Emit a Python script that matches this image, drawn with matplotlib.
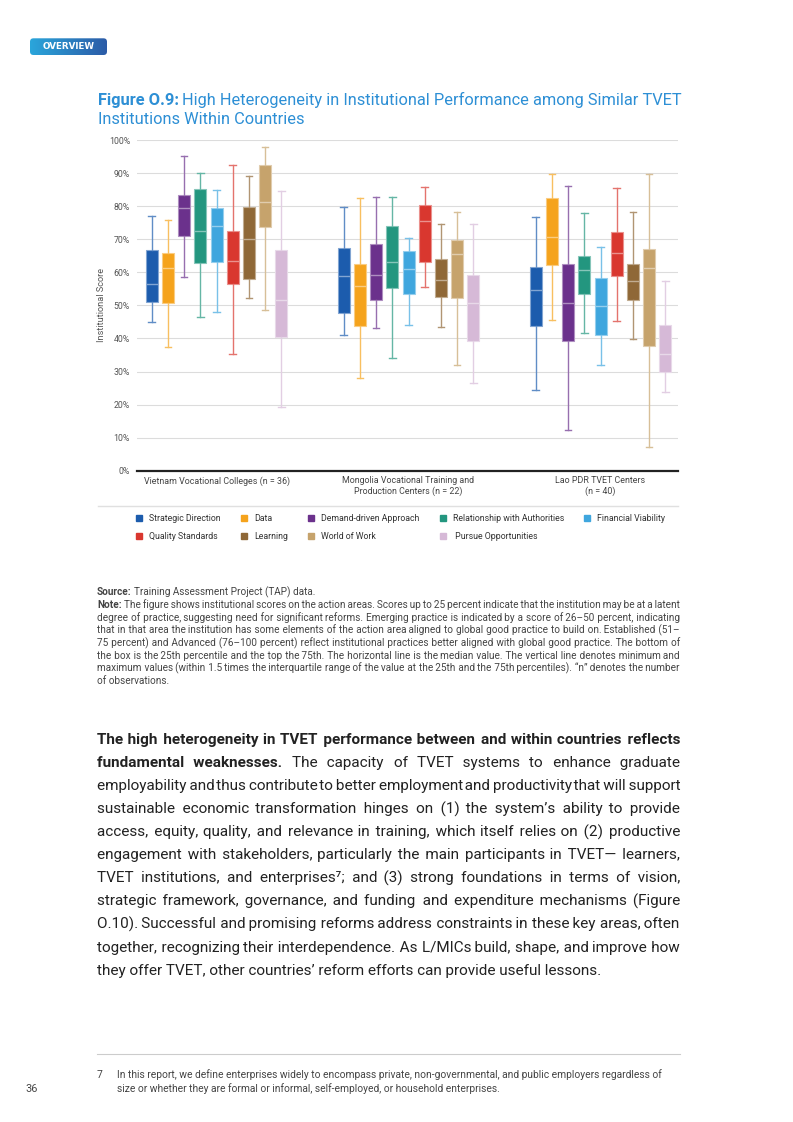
import matplotlib
matplotlib.use("Agg")
import matplotlib.pyplot as plt
import matplotlib.colors as mcolors
from matplotlib.patches import FancyBboxPatch
from matplotlib.lines import Line2D
import numpy as np

plt.rcParams["font.family"] = ["Roboto", "DejaVu Sans"]

W, H = 793, 1122
HAIR = "\u200a"

SERIES = ["Strategic Direction", "Data", "Demand-driven Approach", "Relationship with Authorities",
          "Financial Viability", "Quality Standards", "Learning", "World of Work", " Pursue Opportunities"]
COLORS = ["#1c5cad", "#f5a31c", "#6b318c", "#23967f", "#3fa6de",
          "#d9372f", "#8f6837", "#c6a36c", "#d6b9d7"]
GROUPS = ["Vietnam Vocational Colleges (n = 36)",
          "Mongolia Vocational Training and\nProduction Centers (n = 22)",
          "Lao PDR TVET Centers\n(n = 40)"]

# box stats per group (rows) and action area (columns), percent
WHISK_LO = [[44.9, 37.3, 58.7, 46.5, 48.0, 35.4, 52.4, 48.7, 19.3],
            [41.2, 27.9, 43.3, 34.2, 44.1, 55.5, 43.6, 32.0, 26.5],
            [24.4, 45.6, 12.2, 41.6, 31.9, 45.4, 39.8, 7.3, 23.8]]
Q1 = [[51.0, 50.6, 71.1, 62.8, 63.2, 56.6, 58.1, 73.6, 40.6],
      [47.6, 43.8, 51.6, 55.3, 53.5, 63.1, 52.6, 52.2, 39.3],
      [43.8, 62.2, 39.1, 53.5, 41.2, 58.8, 51.6, 37.8, 29.8]]
MEDIAN = [[56.6, 61.4, 79.4, 72.6, 73.9, 63.6, 70.2, 81.3, 51.8],
          [59.0, 56.0, 59.3, 63.2, 61.1, 75.6, 57.6, 65.7, 50.6],
          [54.8, 70.6, 50.6, 60.8, 49.9, 66.0, 57.5, 61.4, 35.2]]
Q3 = [[66.9, 65.9, 83.4, 85.2, 79.4, 72.5, 79.7, 92.6, 66.9],
      [67.4, 62.6, 68.5, 73.9, 66.4, 80.4, 64.2, 69.9, 59.2],
      [61.6, 82.4, 62.5, 65.0, 58.4, 72.1, 62.6, 67.0, 44.2]]
WHISK_HI = [[77.1, 75.9, 95.3, 90.0, 85.0, 92.6, 89.1, 97.9, 84.7],
            [79.8, 82.6, 82.9, 82.8, 70.5, 85.8, 74.5, 78.3, 74.7],
            [76.7, 89.8, 86.1, 77.9, 67.7, 85.5, 78.2, 89.8, 57.4]]
YTICKS = list(range(0, 101, 10))

BODY = [
    [("The high heterogeneity in TVET performance between and within countries reflects", True)],
    [("fundamental weaknesses.", True), ("The capacity of TVET systems to enhance graduate", False)],
    [("employability and thus contribute to better employment and productivity that will support", False)],
    [("sustainable economic transformation hinges on (1) the system\u2019s ability to provide", False)],
    [("access, equity, quality, and relevance in training, which itself relies on (2) productive", False)],
    [("engagement with stakeholders, particularly the main participants in TVET\u2014 learners,", False)],
    [("TVET institutions, and enterprises\u2077; and (3) strong foundations in terms of vision,", False)],
    [("strategic framework, governance, and funding and expenditure mechanisms (Figure", False)],
    [("O.10). Successful and promising reforms address constraints in these key areas, often", False)],
    [("together, recognizing their interdependence. As L/MICs build, shape, and improve how", False)],
    [("they offer TVET, other countries\u2019 reform efforts can provide useful lessons.", False)],
]
NOTE = [
    [("Note:", True), ("The figure shows institutional scores on the action areas. Scores up to 25 percent indicate that the institution may be at a latent", False)],
    [("degree of practice, suggesting need for significant reforms. Emerging practice is indicated by a score of 26\u201350 percent, indicating", False)],
    [("that in that area the institution has some elements of the action area aligned to global good practice to build on. Established (51\u2013", False)],
    [("75 percent) and Advanced (76\u2013100 percent) reflect institutional practices better aligned with global good practice. The bottom of", False)],
    [("the box is the 25th percentile and the top the 75th. The horizontal line is the median value. The vertical line denotes minimum and", False)],
    [("maximum values (within 1.5 times the interquartile range of the value at the 25th and the 75th percentiles). \u201cn\u201d denotes the number", False)],
    [("of observations.", False)],
]
FOOTNOTE = ["In this report, we define enterprises widely to encompass private, non-governmental, and public employers regardless of",
            "size or whether they are formal or informal, self-employed, or household enterprises."]


def lighten(c, f):
    r = np.array(mcolors.to_rgb(c))
    return tuple(r + (1 - r) * f)


fig = plt.figure(figsize=(W / 100, H / 100), dpi=100)
fig.patch.set_facecolor("white")
rend = fig.canvas.get_renderer()


def put(x, y, s, **kw):
    return fig.text(x / W, 1 - y / H, s, **kw)


def width(t):
    return t.get_window_extent(rend).width


def measure(s, bold, size):
    t = put(0, 0, s, fontsize=size, fontweight="bold" if bold else "normal")
    w = width(t)
    t.remove()
    return w


def segments(parts):
    segs = []
    for txt, bold in parts:
        ws = txt.split()
        if segs and segs[-1][0] == bold:
            segs[-1][1].extend(ws)
        else:
            segs.append([bold, ws])
    return segs


def bare_width(parts, size):
    # summed width of the words alone, without the spaces
    tot, n = 0, 0
    for bold, ws in segments(parts):
        sp = measure("x x", bold, size) - measure("xx", bold, size)
        tot += measure(" ".join(ws), bold, size) - (len(ws) - 1) * sp
        n += len(ws)
    return tot, n


def fit_size(lines, base, min_gap, cap, x0=97, x1=680):
    best = cap
    for parts in lines[:-1]:
        tot, n = bare_width(parts, base)
        best = min(best, base * (x1 - x0 - (n - 1) * min_gap) / tot)
    return best


def justify(y, parts, size, color, last=False, x0=97, x1=680):
    segs = segments(parts)
    x = x0
    if last:
        for bold, ws in segs:
            t = put(x, y, " ".join(ws), fontsize=size, fontweight="bold" if bold else "normal",
                    color=color, va="baseline")
            x += width(t) + measure("x x", bold, size) - measure("xx", bold, size)
        return
    tot, n = bare_width(parts, size)
    gap = (x1 - x0 - tot) / (n - 1)
    acc = 0.0
    for j, (bold, ws) in enumerate(segs):
        hair = measure("x" + HAIR * 10 + "x", bold, size) / 10 - measure("xx", bold, size) / 10
        s = ws[0]
        for w in ws[1:]:
            acc += gap
            m = max(1, int(round(acc / hair)))
            acc -= m * hair
            s += HAIR * m + w
        t = put(x, y, s, fontsize=size, fontweight="bold" if bold else "normal", color=color,
                va="baseline")
        x += width(t)
        if j < len(segs) - 1:
            x += gap + acc
            acc = 0.0


# badge
bax = fig.add_axes([30 / W, 1 - 55 / H, 77 / W, 16.7 / H])
bax.set_xlim(0, 77); bax.set_ylim(0, 16.7); bax.axis("off")
cmap = mcolors.LinearSegmentedColormap.from_list("badge", ["#2aa6db", "#2c5ba7"])
im = bax.imshow(np.linspace(0, 1, 256).reshape(1, -1), cmap=cmap, aspect="auto", extent=[0, 77, 0, 16.7])
clip = FancyBboxPatch((0, 0), 77, 16.7, boxstyle="round,pad=0,rounding_size=3.5", transform=bax.transData,
                      facecolor="none", edgecolor="none")
bax.add_patch(clip)
im.set_clip_path(clip)
bax.text(38.5, 8.6, "OVERVIEW", color="white", fontsize=6.3, fontweight="bold", ha="center", va="center",
         family="DejaVu Sans")

# title
tc = "#2d8fd5"
t1 = put(98, 104.5, "Figure O.9:", fontsize=11.75, fontweight="bold", color=tc, va="baseline")
put(98 + width(t1) + 3.5, 104.5, "High Heterogeneity in Institutional Performance among Similar TVET",
    fontsize=11.75, color=tc, va="baseline")
put(98, 124, "Institutions Within Countries", fontsize=11.75, color=tc, va="baseline")

# chart
ax = fig.add_axes([137 / W, 1 - 470.7 / H, 541 / W, 330.5 / H])
STEP, GAP, OFF = 16.2, 192, 14.7
centers = []
for g in range(len(GROUPS)):
    pos = [OFF + g * GAP + i * STEP for i in range(len(SERIES))]
    centers.append(np.mean(pos))
    for i, c in enumerate(COLORS):
        st = dict(med=MEDIAN[g][i], q1=Q1[g][i], q3=Q3[g][i], whislo=WHISK_LO[g][i],
                  whishi=WHISK_HI[g][i], fliers=[])
        ax.bxp([st], positions=[pos[i]], widths=12, capwidths=6.5, patch_artist=True, showfliers=False,
               boxprops=dict(facecolor=c, edgecolor=lighten(c, 0.45), linewidth=0.8),
               medianprops=dict(color=lighten(c, 0.45), linewidth=1.0),
               whiskerprops=dict(color=lighten(c, 0.3), linewidth=1.0),
               capprops=dict(color=lighten(c, 0.3), linewidth=1.0))

ax.set_xlim(0, 541)
ax.set_ylim(0, 100)
ax.set_yticks(YTICKS)
ax.set_yticklabels([f"{v}%" for v in YTICKS])
ax.set_xticks(centers)
ax.set_xticklabels(GROUPS)
ax.tick_params(axis="y", length=0, pad=5, labelsize=6.3, labelcolor="#555555")
ax.tick_params(axis="x", length=0, pad=4, labelsize=6.4, labelcolor="#444444")
ax.grid(axis="y", color="#dcdcdc", linewidth=0.8)
ax.set_axisbelow(True)
for s in ["top", "right", "left"]:
    ax.spines[s].set_visible(False)
ax.spines["bottom"].set_color("#222222")
ax.spines["bottom"].set_linewidth(1.6)
ax.set_ylabel("Institutional Score", fontsize=6.6, color="#555555", va="center")
ax.yaxis.set_label_coords((101.7 - 137) / 541, 0.5)

# separator + legend
fig.add_artist(Line2D([98 / W, 678 / W], [1 - 506 / H] * 2, color="#e0e0e0", lw=1))
order = [0, 5, 1, 6, 2, 7, 3, 8, 4]
handles = [Line2D([], [], marker="s", ls="", color=COLORS[k], markersize=4.3) for k in order]
fig.legend(handles, [SERIES[k] for k in order], ncol=5, loc="upper left",
           bbox_to_anchor=(135 / W, 1 - 514.5 / H), frameon=False, fontsize=6.3,
           handlelength=0.9, handletextpad=0.7, columnspacing=2.2, labelspacing=0.95,
           borderpad=0, borderaxespad=0, labelcolor="#333333")

# source and note
sc = "#444444"
note_size = fit_size(NOTE, 6.5, 1.9, 7.2)
s1 = put(97, 595, "Source:", fontsize=note_size, fontweight="bold", color=sc, va="baseline")
put(97 + width(s1) + 2, 595, "Training Assessment Project (TAP) data.", fontsize=note_size, color=sc,
    va="baseline")
for k, line in enumerate(NOTE):
    justify(608.5 + k * 12.6, line, note_size, sc, last=(k == len(NOTE) - 1))

# body paragraph
body_size = fit_size(BODY, 10.6, 2.2, 12.0)
for k, line in enumerate(BODY):
    justify(744 + k * 23.1, line, body_size, "#222222", last=(k == len(BODY) - 1))

# footnote
fig.add_artist(Line2D([97 / W, 680 / W], [1 - 1054 / H] * 2, color="#cccccc", lw=0.8))
put(97, 1078, "7", fontsize=7.4, color="#444444", va="baseline")
for k, line in enumerate(FOOTNOTE):
    put(117, 1078 + k * 13.8, line, fontsize=7.4, color="#444444", va="baseline")
put(25, 1092, "36", fontsize=7.8, color="#444444", va="baseline")

fig.savefig("out.png", dpi=100, facecolor="white")
